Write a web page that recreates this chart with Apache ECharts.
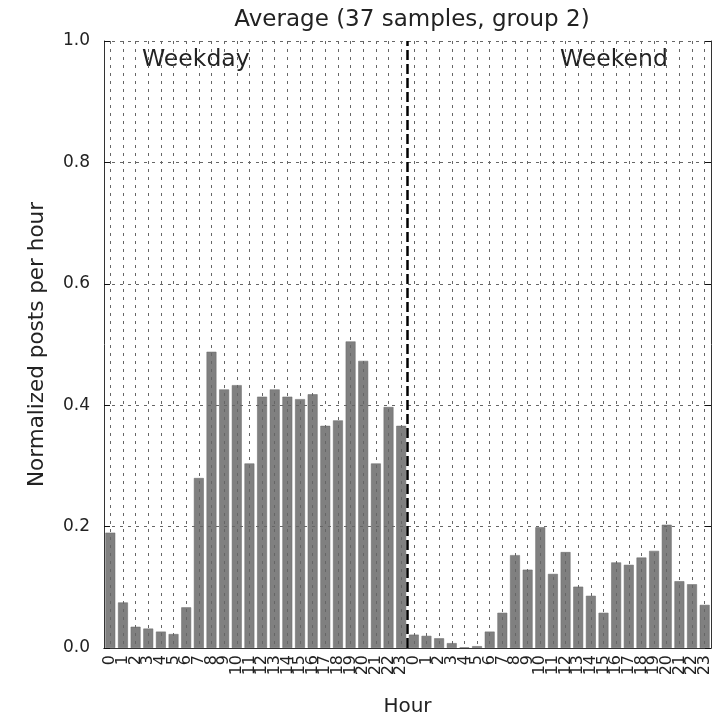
<!DOCTYPE html>
<html>
<head>
<meta charset="utf-8">
<script src="https://cdn.jsdelivr.net/npm/echarts@6/dist/echarts.min.js"></script>
<style>
  html, body { margin: 0; padding: 0; background: #fff; }
  #chart { width: 717px; height: 717px; }
</style>
</head>
<body>
<div id="chart"></div>
<script>
// hour tick labels, used for both halves
var hours = ['0','1','2','3','4','5','6','7','8','9','10','11','12','13','14','15','16','17','18','19','20','21','22','23'];
// normalized posts per hour
var weekday = [0.190, 0.075, 0.035, 0.032, 0.027, 0.023, 0.067, 0.280, 0.488, 0.426, 0.433, 0.304,
               0.414, 0.426, 0.414, 0.410, 0.418, 0.366, 0.375, 0.505, 0.473, 0.304, 0.397, 0.366];
var weekend = [0.022, 0.020, 0.016, 0.008, 0.001, 0.003, 0.027, 0.058, 0.153, 0.129, 0.199, 0.122,
               0.158, 0.101, 0.086, 0.058, 0.141, 0.137, 0.149, 0.160, 0.203, 0.110, 0.105, 0.071];
var yTicks = [0, 0.2, 0.4, 0.6, 0.8, 1.0];
var splitAt = 24; // weekday / weekend boundary

var cats = hours.concat(hours);
var values = weekday.concat(weekend);
var font = 'DejaVu Sans';
var dotted = { color: '#666', width: 1, type: [3, 5] };

var chart = echarts.init(document.getElementById('chart'));
var option = {
  animation: false,
  textStyle: { fontFamily: font },
  title: {
    text: 'Average (37 samples, group 2)',
    left: 407, top: 4, textAlign: 'center',
    textStyle: { fontFamily: font, fontSize: 23, fontWeight: 'normal', color: '#222' }
  },
  grid: { left: 104, right: 6, top: 41, bottom: 69, outerBoundsMode: 'none', containLabel: false },
  xAxis: [
    {
      type: 'category', data: cats, position: 'bottom', boundaryGap: true, z: 3,
      name: 'Hour', nameLocation: 'middle', nameGap: 49,
      nameTextStyle: { fontFamily: font, fontSize: 20, color: '#222' },
      axisLine: { lineStyle: { color: '#333', width: 1 } },
      axisTick: { inside: true, length: 6, alignWithLabel: true, lineStyle: { color: '#111' } },
      axisLabel: { rotate: 90, interval: 0, margin: 7, fontFamily: font, fontSize: 16, color: '#222' },
      splitLine: { show: true, alignWithLabel: true, interval: 0, lineStyle: dotted }
    },
    {
      type: 'category', data: cats, position: 'top', boundaryGap: true, z: 3,
      axisLine: { lineStyle: { color: '#333', width: 1 } },
      axisTick: { inside: true, length: 6, alignWithLabel: true, interval: 0, lineStyle: { color: '#111' } },
      axisLabel: { show: false },
      splitLine: { show: false }
    },
    { type: 'value', min: 0, max: 48, show: false }
  ],
  yAxis: [
    {
      type: 'value', min: 0, max: 1, interval: 0.2, z: 3,
      name: 'Normalized posts per hour', nameLocation: 'middle', nameGap: 56,
      nameTextStyle: { fontFamily: font, fontSize: 21.5, color: '#222' },
      axisLine: { show: true, lineStyle: { color: '#333', width: 1 } },
      axisTick: { show: true, inside: true, length: 6, lineStyle: { color: '#111' } },
      axisLabel: { margin: 14, fontFamily: font, fontSize: 17, color: '#222',
        formatter: function (v) { return v.toFixed(1); } },
      splitLine: { show: true, lineStyle: dotted }
    },
    {
      type: 'value', min: 0, max: 1, interval: 0.2, position: 'right', z: 3,
      axisLine: { show: true, lineStyle: { color: '#333', width: 1 } },
      axisTick: { show: true, inside: true, length: 6, lineStyle: { color: '#111' } },
      axisLabel: { show: false },
      splitLine: { show: false }
    }
  ],
  graphic: [
    { type: 'text', left: 142, top: 48, style: { text: 'Weekday', fontFamily: font, fontSize: 23.5, fill: '#222' } },
    { type: 'text', left: 560, top: 48, style: { text: 'Weekend', fontFamily: font, fontSize: 23.5, fill: '#222' } }
  ],
  series: [
    {
      type: 'bar', xAxisIndex: 0, yAxisIndex: 0, data: values, barWidth: '78%',
      itemStyle: { color: '#808080', borderColor: '#666', borderWidth: 0.5 },
      z: 2
    },
    {
      type: 'line', xAxisIndex: 2, yAxisIndex: 0, symbol: 'none', z: 5,
      data: [[splitAt, yTicks[0]], [splitAt, yTicks[yTicks.length - 1]]],
      lineStyle: { color: '#000', width: 2.5, type: [10, 4] }
    }
  ]
};
chart.setOption(option);
</script>
</body>
</html>
